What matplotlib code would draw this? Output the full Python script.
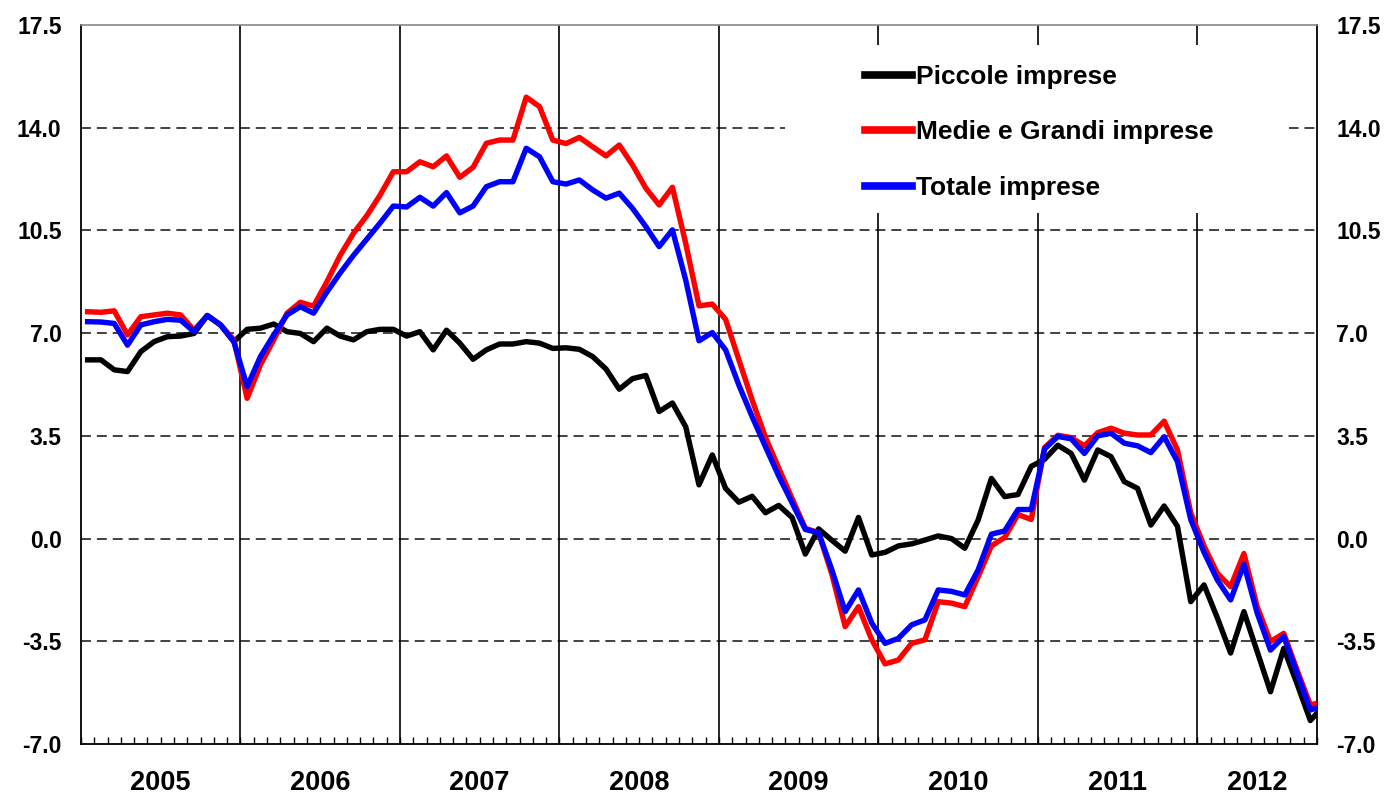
import numpy as np
import matplotlib.pyplot as plt
from matplotlib.patches import Rectangle

# monthly values, Jan 2005 .. Oct 2012 (last point falls past the right edge)
piccole = [
    6.09, 6.09, 5.75, 5.69, 6.37, 6.71, 6.88, 6.90, 6.99, 7.60, 7.28, 6.71,
    7.13, 7.17, 7.31, 7.05, 6.99, 6.71, 7.17, 6.90, 6.77, 7.05, 7.13, 7.13,
    6.90, 7.05, 6.43, 7.10, 6.66, 6.11, 6.43, 6.63, 6.63, 6.71, 6.66, 6.48,
    6.50, 6.45, 6.20, 5.78, 5.09, 5.45, 5.56, 4.33, 4.62, 3.81, 1.83, 2.85,
    1.71, 1.24, 1.44, 0.88, 1.13, 0.72, -0.53, 0.33, -0.06, -0.43, 0.72, -0.56,
    -0.47, -0.25, -0.18, -0.05, 0.09, 0.00, -0.33, 0.63, 2.05, 1.43, 1.50, 2.46,
    2.70, 3.18, 2.90, 1.99, 3.02, 2.79, 1.94, 1.71, 0.46, 1.11, 0.42, -2.15,
    -1.58, -2.70, -3.90, -2.49, -3.85, -5.22, -3.74, -4.95, -6.20, -5.70,
]
medie_grandi = [
    7.73, 7.71, 7.76, 6.94, 7.56, 7.62, 7.68, 7.62, 7.10, 7.60, 7.28, 6.77,
    4.78, 5.92, 6.77, 7.68, 8.05, 7.92, 8.75, 9.65, 10.40, 11.00, 11.70, 12.50,
    12.50, 12.84, 12.67, 13.04, 12.31, 12.65, 13.47, 13.58, 13.58, 15.04, 14.72, 13.58,
    13.46, 13.67, 13.35, 13.04, 13.41, 12.73, 11.94, 11.37, 11.97, 10.06, 7.93, 7.99,
    7.47, 6.09, 4.72, 3.45, 2.40, 1.37, 0.35, 0.20, -1.22, -3.00, -2.32, -3.45,
    -4.27, -4.14, -3.57, -3.45, -2.15, -2.20, -2.32, -1.30, -0.25, 0.04, 0.82, 0.65,
    3.10, 3.52, 3.44, 3.16, 3.61, 3.76, 3.59, 3.53, 3.53, 4.00, 3.02, 0.88,
    -0.25, -1.18, -1.64, -0.51, -2.32, -3.51, -3.23, -4.48, -5.67, -5.55,
]
totale = [
    7.39, 7.38, 7.33, 6.59, 7.28, 7.39, 7.47, 7.44, 7.05, 7.60, 7.28, 6.71,
    5.18, 6.20, 6.94, 7.62, 7.90, 7.68, 8.40, 9.05, 9.65, 10.20, 10.75, 11.33,
    11.30, 11.63, 11.33, 11.79, 11.10, 11.33, 11.99, 12.16, 12.16, 13.30, 13.01, 12.16,
    12.08, 12.22, 11.88, 11.60, 11.77, 11.25, 10.63, 9.95, 10.52, 8.81, 6.74, 7.02,
    6.43, 5.23, 4.15, 3.13, 2.13, 1.22, 0.31, 0.20, -1.07, -2.49, -1.75, -2.88,
    -3.57, -3.40, -2.94, -2.77, -1.75, -1.80, -1.92, -1.07, 0.15, 0.26, 0.99, 0.99,
    3.05, 3.48, 3.40, 2.90, 3.50, 3.59, 3.25, 3.16, 2.93, 3.47, 2.62, 0.65,
    -0.47, -1.41, -2.09, -0.88, -2.54, -3.80, -3.34, -4.59, -5.84, -5.70,
]
years = [2005, 2006, 2007, 2008, 2009, 2010, 2011, 2012]
labels = ["Piccole imprese", "Medie e Grandi imprese", "Totale imprese"]
yticks = [-7.0, -3.5, 0.0, 3.5, 7.0, 10.5, 14.0, 17.5]

plt.rcParams['font.family'] = ['Liberation Sans', 'DejaVu Sans']

n_months = 93  # Jan 2005 .. Sep 2012 shown
x = np.arange(len(piccole)) + 0.5

fig = plt.figure(figsize=(13.91, 8), dpi=100)
ax = fig.add_axes([81/1391, 1 - 744/800, 1236/1391, 719/800])

for v in yticks[1:-1]:
    ax.axhline(v, color='#333333', lw=1.3, ls=(0, (5.5, 3.3)), zorder=1)
for k in range(1, len(years)):
    ax.axvline(12*k, color='black', lw=1.2, zorder=1)

# white patch behind the legend
ax.add_patch(Rectangle((0.5696, 0.7385), 0.408, 0.234, transform=ax.transAxes,
                       facecolor='white', edgecolor='none', zorder=1.5))

lw = 3.9
ax.plot(x, piccole, color='black', lw=lw, zorder=3, solid_joinstyle='round', label=labels[0])
ax.plot(x, medie_grandi, color='#ff0000', lw=lw, zorder=4, solid_joinstyle='round', label=labels[1])
ax.plot(x, totale, color='#0000ff', lw=lw, zorder=5, solid_joinstyle='round', label=labels[2])

ax.set_xlim(0, n_months)
ax.set_ylim(-7, 17.5)
ax.set_yticks(yticks)
ax.set_yticklabels(["%.1f" % v for v in yticks], fontsize=16.5, fontweight='bold')
ax.tick_params(axis='y', length=0, pad=14, left=True, right=True,
               labelleft=True, labelright=True)
ax.set_xticks([])
ax.set_xticks(np.arange(0, n_months + 1), minor=True)
ax.tick_params(axis='x', which='minor', direction='in', length=5, width=1, top=False)

for k, yr in enumerate(years):
    mid = (12*k + min(12*(k+1), n_months)) / 2
    ax.text(mid, -0.054, str(yr), transform=ax.get_xaxis_transform(),
            ha='center', va='center', fontsize=19.5, fontweight='bold')

for side in ['left', 'right', 'bottom']:
    ax.spines[side].set_color('black')
    ax.spines[side].set_linewidth(1.3)
ax.spines['top'].set_color('#888888')
ax.spines['top'].set_linewidth(1.2)

leg = ax.legend(loc='upper left', bbox_to_anchor=(0.624, 0.963), frameon=False,
                borderpad=0, handlelength=1.75, handletextpad=0.15,
                labelspacing=1.2, prop={'weight': 'bold', 'size': 19})
for l in leg.get_lines():
    l.set_linewidth(5.5)
leg.set_zorder(6)

fig.savefig('out.png', dpi=100)
